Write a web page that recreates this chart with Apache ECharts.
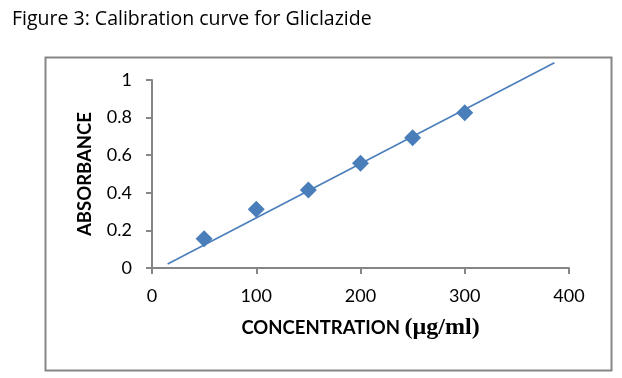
<!DOCTYPE html>
<html>
<head>
<meta charset="utf-8">
<script src="https://cdn.jsdelivr.net/npm/echarts@6/dist/echarts.min.js"></script>
<style>html,body{margin:0;padding:0;background:#fff}#c{width:622px;height:378px}</style>
</head>
<body>
<div id="c"></div>
<script>
// Data
var concentration = [50, 100, 150, 200, 250, 300];
var absorbance = [0.156, 0.312, 0.415, 0.557, 0.693, 0.826];
// Linear trendline endpoints (as drawn in the reference)
var trendX = [15, 386];
var trendY = [0.021, 1.092];
var xTicks = [0, 100, 200, 300, 400];
var yTicks = [0, 0.2, 0.4, 0.6, 0.8, 1];

var chart = echarts.init(document.getElementById('c'), null, {renderer: 'canvas'});
var axisColor = '#868686';
var blue = '#4a7ebb';
chart.setOption({
  animation: false,
  backgroundColor: '#fff',
  title: {
    text: 'Figure 3: Calibration curve for Gliclazide',
    left: 7, top: 4,
    textStyle: {fontFamily: 'Open Sans', fontWeight: 'normal', fontSize: 19.5, color: '#000'}
  },
  graphic: [{
    type: 'rect', left: 43, top: 55, z: -1,
    shape: {width: 566, height: 313},
    style: {fill: 'none', stroke: axisColor, lineWidth: 2}
  }],
  grid: {left: 152, right: 53, top: 80, bottom: 110, containLabel: false},
  xAxis: {
    type: 'value', min: xTicks[0], max: xTicks[xTicks.length - 1], interval: 100,
    name: '{a|CONCENTRATION }{b|(µg/ml)}',
    nameLocation: 'middle', nameGap: 48,
    nameTextStyle: {
      rich: {
        a: {fontFamily: 'Lato', fontWeight: 'bold', fontSize: 18.5, color: '#000'},
        b: {fontFamily: 'Liberation Serif', fontWeight: 'bold', fontSize: 24, color: '#000'}
      }
    },
    axisLine: {lineStyle: {color: axisColor, width: 2}},
    axisTick: {show: true, length: 6, lineStyle: {color: axisColor, width: 2}},
    axisLabel: {fontFamily: 'Lato', fontSize: 18, color: '#000', margin: 19},
    splitLine: {show: false}
  },
  yAxis: {
    type: 'value', min: yTicks[0], max: yTicks[yTicks.length - 1], interval: 0.2,
    name: 'ABSORBANCE', nameLocation: 'middle', nameGap: 57, nameRotate: 90,
    nameTextStyle: {fontFamily: 'Lato', fontWeight: 'bold', fontSize: 18.5, color: '#000'},
    axisLine: {show: true, lineStyle: {color: axisColor, width: 2}},
    axisTick: {show: true, length: 6, lineStyle: {color: axisColor, width: 2}},
    axisLabel: {fontFamily: 'Lato', fontSize: 18, color: '#000', margin: 20},
    splitLine: {show: false}
  },
  series: [{
    type: 'line',
    data: trendX.map(function (x, i) { return [x, trendY[i]]; }),
    symbol: 'none',
    clip: false,
    lineStyle: {color: blue, width: 1.6},
    z: 2
  }, {
    type: 'scatter',
    data: concentration.map(function (x, i) { return [x, absorbance[i]]; }),
    symbol: 'diamond',
    symbolSize: [17, 17],
    itemStyle: {color: blue, opacity: 1},
    z: 3
  }]
});
</script>
</body>
</html>
